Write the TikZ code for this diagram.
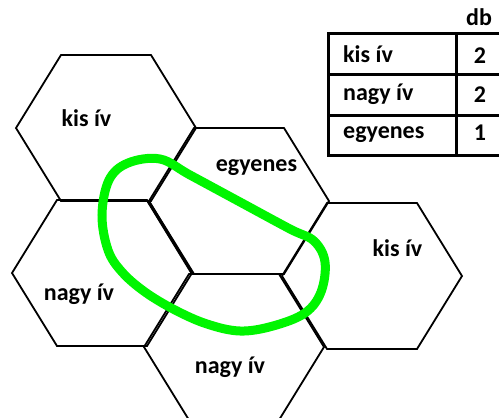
\documentclass[tikz,border=0pt]{standalone}
\usepackage{fontspec}
\setmainfont{Carlito}
\definecolor{loopgreen}{RGB}{0,245,0}
\begin{document}
\begin{tikzpicture}[x=1pt,y=-1pt,
  hexedge/.style={draw=black,line width=1.8pt,line join=miter},
  hexagon/.pic={\draw[hexedge] (-90,0) -- (-45,-73) -- (45,-73) -- (90,0) -- (45,73) -- (-45,73) -- cycle;},
  txt/.style={font=\bfseries\fontsize{24}{28}\selectfont,inner sep=0pt,text=black},
  hexlabel/.style={txt,anchor=base},
  rowlabel/.style={txt,anchor=base west},
  tablerule/.style={draw=black,line width=3pt,line cap=rect},
  loopline/.style={draw=loopgreen,line width=9pt}
]
\useasboundingbox (0,0) rectangle (499,418);

% honeycomb cells
\pic at (106,128) {hexagon};
\pic at (239,201) {hexagon};
\pic at (102,273) {hexagon};
\pic at (234,347) {hexagon};
\pic at (372,276) {hexagon};

% doubled shared edge between the middle and left cells
\coordinate (e1) at (148,201);
\coordinate (e2) at (192,273);
\draw[line width=3pt] (e1) -- (e2);

% green loop around the middle pieces
\draw[loopline] plot[smooth cycle,tension=0.6] coordinates {
  (102,215) (108,250) (122,272) (145,292) (175,310) (207,324) (240,331)
  (273,326) (305,313) (321,292) (325,262) (314,241) (290,229) (240,202)
  (190,175) (160,159) (128,163) (109,180)};

% cell labels
\node[hexlabel] (l1) at (86.5,126) {kis ív};
\node[hexlabel] (l2) at (256.5,171) {egyenes};
\node[hexlabel] (l3) at (79,300) {nagy ív};
\node[hexlabel] (l4) at (230,373) {nagy ív};
\node[hexlabel] (l5) at (397.5,256) {kis ív};

% count table
\coordinate (t0) at (328,33);
\draw[tablerule] (499,33) -- (328,33) -- (328,155) -- (499,155);
\draw[tablerule] (328,74) -- (499,74);
\draw[tablerule] (328,115) -- (499,115);
\draw[tablerule] (456,33) -- (456,155);

\node[hexlabel] (db) at (479,25) {db};
\node[rowlabel] (r1) at (343,62) {kis ív};
\node[rowlabel] (r2) at (343,100) {nagy ív};
\node[rowlabel] (r3) at (343,138) {egyenes};
\node[hexlabel] (n1) at (480,63) {2};
\node[hexlabel] (n2) at (480,102) {2};
\node[hexlabel] (n3) at (480,140) {1};
\end{tikzpicture}
\end{document}
